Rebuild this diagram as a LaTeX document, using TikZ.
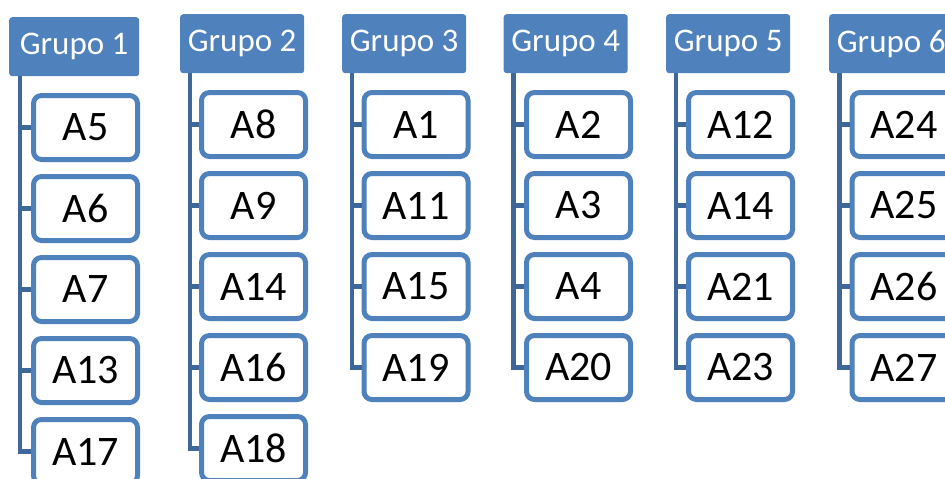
\documentclass[tikz,border=0pt]{standalone}
\usepackage{fontspec}
\setmainfont{Carlito}
\definecolor{hdr}{HTML}{4F81BD}
\definecolor{bord}{HTML}{4F81BD}
\definecolor{connc}{HTML}{3E6899}
\begin{document}
\begin{tikzpicture}[x=1pt,y=-1pt,
  header/.style={fill=hdr,rounded corners=3pt,minimum height=59pt,inner sep=0pt,
    text=white,font=\fontsize{33}{36}\selectfont,anchor=north west},
  child/.style={draw=bord,line width=5pt,fill=white,rounded corners=8pt,
    minimum width=104pt,minimum height=64pt,inner sep=0pt,
    font=\fontsize{42}{46}\selectfont},
  conn/.style={draw=connc,line width=4.5pt}]
\useasboundingbox (0,0) rectangle (945,479);
\foreach \g/\hx/\hy/\hw/\lx/\cx/\cy/\items in {
  1/9/17/130/20/85.5/127.5/{A5,A6,A7,A13,A17},
  2/180/14/124/190/253.5/124.5/{A8,A9,A14,A16,A18},
  3/342/14/124/352/416/124.5/{A1,A11,A15,A19},
  4/503.5/14/124/513.5/578.5/124.5/{A2,A3,A4,A20},
  5/666/14/124/676/740.5/124.5/{A12,A14,A21,A23},
  6/829/14/124/839.5/904/124.5/{A24,A25,A26,A27}}{
  \node[header,minimum width=\hw pt] (h\g) at (\hx,\hy) {Grupo \g};
  \coordinate (l\g) at (\lx,{\hy+59});
  \foreach \t [count=\i] in \items {
    \node[child] (c\g-\i) at (\cx,{\cy+81*(\i-1)}) {\t};
    \draw[conn] (l\g) |- (c\g-\i.west);
  }
}
\end{tikzpicture}
\end{document}
